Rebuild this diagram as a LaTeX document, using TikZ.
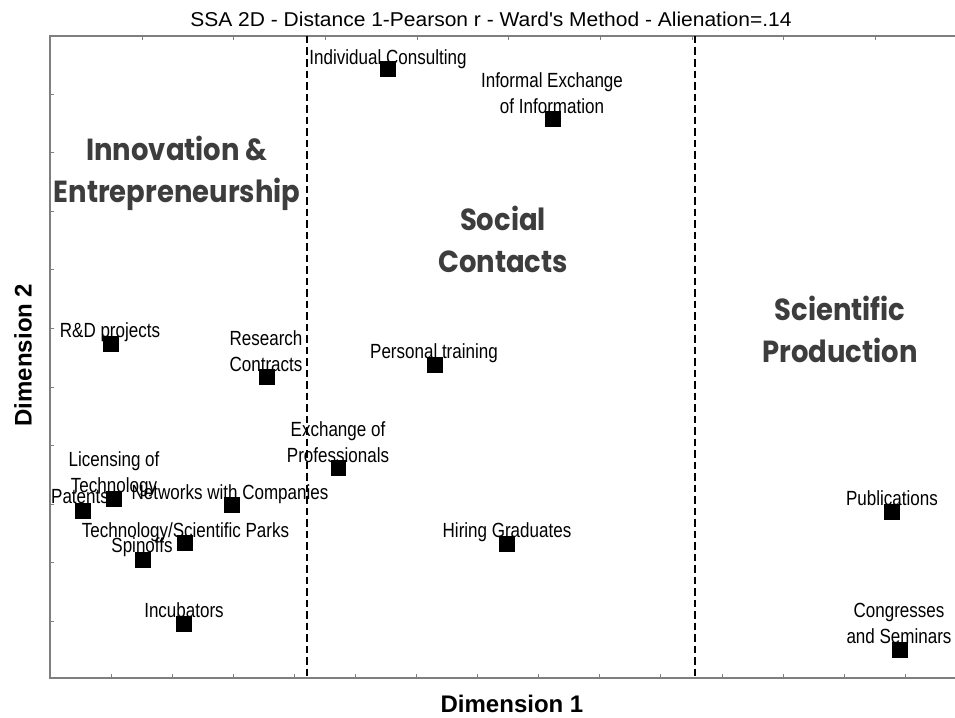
\documentclass[tikz,border=0pt]{standalone}
\usepackage{fontspec}
\setmainfont{Liberation Sans}
\newfontfamily\titlefont[FakeStretch=1.05]{Liberation Sans}
\newfontfamily\itemfont[FakeStretch=0.83]{Liberation Sans}
\newfontfamily\groupfont[FakeStretch=0.9]{Poppins}
\definecolor{groupgray}{HTML}{3D3D3D}
\definecolor{framegray}{HTML}{7F7F7F}

\tikzset{
  point/.style={fill=black, inner sep=0pt, minimum size=15.5pt},
  item/.style={anchor=base, inner sep=0pt, align=center,
    font=\itemfont\fontsize{20.5}{25.5}\selectfont},
  group/.style={anchor=base, inner sep=0pt, align=center, text=groupgray,
    font=\groupfont\bfseries\fontsize{30.5}{42}\selectfont},
  boundary/.style={dash pattern=on 7.5pt off 4pt, line width=2.7pt},
}

\begin{document}
\begin{tikzpicture}[x=1pt, y=-1pt]
    \useasboundingbox (0,0) rectangle (955,717);

    % Title
    \node[anchor=base, inner sep=0pt, font=\titlefont\fontsize{20}{24}\selectfont] (title) at (491,27)
        {SSA 2D - Distance 1-Pearson r - Ward\textquotesingle s Method - Alienation=.14};

    % Frame and ticks
    \draw[framegray, line width=1.1pt] (955,36) -- (50,36) -- (50,678) -- (955,678);
    \foreach \k in {0,...,8} {
        \draw[framegray, line width=0.9pt] (142+91.7*\k,36) -- (142+91.7*\k,40);
    }
    \foreach \k in {0,...,13} {
        \draw[framegray, line width=0.9pt] (111+61.1*\k,678) -- (111+61.1*\k,674);
    }
    \foreach \k in {0,...,9} {
        \draw[framegray, line width=0.9pt] (50,94+58.6*\k) -- (54,94+58.6*\k);
    }

    % Axis labels
    \node[anchor=base, inner sep=0pt, font=\bfseries\fontsize{24}{28}\selectfont] (dimone) at (512,712) {Dimension 1};
    \node[rotate=90, inner sep=0pt, font=\bfseries\fontsize{24}{28}\selectfont] (dimtwo) at (23,355) {Dimension 2};

    % Region boundaries
    \draw[boundary] (307,36) -- (307,678);
    \draw[boundary] (695,36) -- (695,678);

    % Region names (base = last line)
    \node[group] (innov) at (177,202) {Innovation \&\\Entrepreneurship};
    \node[group] (social) at (503,272) {Social\\Contacts};
    \node[group] (scient) at (840,362) {Scientific\\Production};

    % Points
    \node[point] (indcons) at (388,69) {};
    \node[point] (infexch) at (553,119) {};
    \node[point] (rdproj) at (111,344) {};
    \node[point] (rescon) at (267,377) {};
    \node[point] (pertrain) at (435,365) {};
    \node[point] (exprof) at (338.5,468) {};
    \node[point] (lictech) at (114,499) {};
    \node[point] (patents) at (83,511) {};
    \node[point] (netcomp) at (232,505) {};
    \node[point] (techpark) at (185,543) {};
    \node[point] (spinoffs) at (143,560) {};
    \node[point] (incub) at (184,624) {};
    \node[point] (hirgrad) at (507,544) {};
    \node[point] (public) at (892,512) {};
    \node[point] (congr) at (900,650) {};

    % Point labels
    \node[item] (indconsL) at (388,65) {Individual Consulting};
    \node[item] (infexchL) at (552,113) {Informal Exchange\\of Information};
    \node[item] (rdprojL) at (110,337) {R\&D projects};
    \node[item] (resconL) at (266,371) {Research\\Contracts};
    \node[item] (pertrainL) at (434,358) {Personal training};
    \node[item] (exprofL) at (338,462) {Exchange of\\Professionals};
    \node[item] (lictechL) at (114,492) {Licensing of\\Technology};
    \node[item] (patentsL) at (80,503) {Patents};
    \node[item] (netcompL) at (230,499) {Networks with Companies};
    \node[item] (techparkL) at (185.5,537) {Technology/Scientific Parks};
    \node[item] (spinoffsL) at (142,552) {Spinoffs};
    \node[item] (incubL) at (184,617) {Incubators};
    \node[item] (hirgradL) at (507,537) {Hiring Graduates};
    \node[item] (publicL) at (892,505) {Publications};
    \node[item] (congrL) at (899,643) {Congresses\\and Seminars};
\end{tikzpicture}
\end{document}
